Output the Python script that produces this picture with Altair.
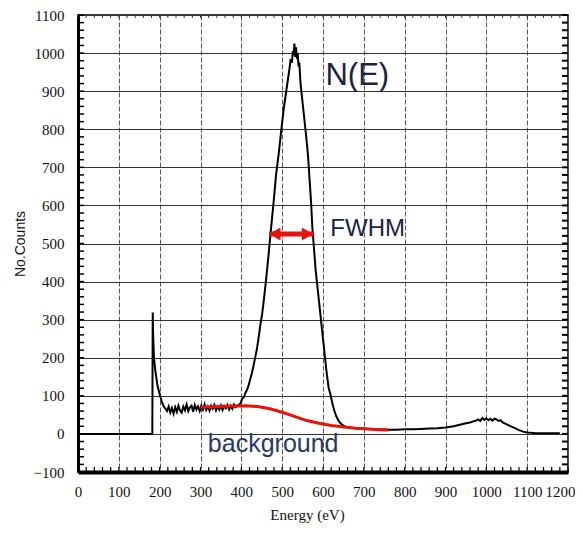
import altair as alt
import pandas as pd

# ---- spectrum ----
energy = [0, 182, 183, 184, 186, 190, 195, 200, 205, 210, 213, 218, 222, 226, 230, 234, 238, 242, 246, 250,
          254, 258, 262, 266, 270, 274, 278, 282, 286, 290, 294, 298, 302, 306, 310, 314, 318, 322, 326, 330,
          334, 338, 342, 346, 350, 354, 358, 362, 366, 370, 374, 378, 382, 386, 390, 394, 398, 402, 406, 410,
          414, 418, 422, 426, 430, 434, 438, 442, 446, 451, 456, 461, 466, 471, 476, 480, 485, 492, 498, 504,
          510, 514, 518, 521, 524, 526, 528, 530, 532, 534, 536, 538, 540, 542, 545, 549, 553, 558, 563, 567,
          571, 574, 577, 582, 587, 591, 595, 600, 605, 609, 614, 618, 623, 628, 633, 638, 643, 648, 655, 665,
          680, 700, 720, 740, 760, 780, 800, 820, 840, 860, 880, 900, 920, 935, 950, 960, 968, 975, 980, 985,
          990, 995, 1000, 1005, 1010, 1015, 1020, 1025, 1030, 1035, 1040, 1050, 1060, 1070, 1080, 1090, 1100,
          1110, 1120, 1150, 1180]
counts = [0, 0, 319, 260, 201, 160, 125, 105, 85, 72, 68, 60, 72, 56, 68, 53, 70, 58, 74, 61,
          56, 72, 62, 77, 60, 70, 74, 58, 76, 64, 72, 60, 74, 64, 78, 63, 72, 61, 74, 66,
          76, 62, 72, 64, 75, 63, 73, 67, 76, 64, 74, 66, 77, 70, 74, 76, 80, 92, 96, 108,
          116, 128, 145, 160, 180, 201, 222, 250, 282, 315, 360, 410, 462, 520, 575, 620, 680, 740, 800, 855,
          900, 930, 960, 985, 975, 1005, 995, 1025, 990, 1015, 985, 1000, 965, 975, 920, 880, 840, 790, 735, 670,
          605, 540, 500, 430, 380, 340, 300, 250, 200, 160, 120, 105, 80, 60, 45, 35, 28, 23, 19, 17,
          15, 14, 12, 12, 11, 11, 12, 12, 13, 14, 15, 17, 20, 24, 28, 30, 33, 35, 38, 34,
          42, 37, 41, 36, 40, 35, 40, 38, 34, 36, 30, 25, 20, 15, 10, 6, 4,
          3, 2, 2, 2]

# ---- background estimate ----
bg_energy = [300, 320, 350, 380, 410, 440, 470, 500, 530, 560, 590, 620, 650, 680, 710, 740, 760]
bg_counts = [70, 71, 72, 73, 74, 72, 66, 57, 46, 35, 28, 22, 18, 15, 13, 11, 10]

# ---- FWHM arrow ----
fwhm_energy = [468, 576]
fwhm_level = 525

# ---- annotations ----
ann_text = ["N(E)", "FWHM"]
ann_energy = [606, 618]
ann_counts = [916, 519]
bg_label = ["background"]
bg_label_energy = [318]
bg_label_counts = [-48]

x_ticks = list(range(0, 1201, 100))
y_ticks = list(range(-100, 1101, 100))
minor_x = list(range(0, 1201, 20))
minor_y = list(range(-100, 1101, 20))

SERIF = "Liberation Serif"

W, H = 490, 457
xs = alt.Scale(domain=[0, 1200], nice=False, zero=False)
ys = alt.Scale(domain=[-100, 1100], nice=False, zero=False)

x_axis = alt.Axis(values=x_ticks, format="d", labelOverlap=False, labelFlush=False, title="Energy (eV)",
                  labelOffset={"condition": {"test": "datum.value == 1200", "value": -8}, "value": 0},
                  grid=True, gridColor="#555555", gridDash=[5, 2], gridWidth=1, ticks=False, labelPadding=12,
                  labelFont=SERIF, labelFontSize=15, labelColor="#111111",
                  titleFont=SERIF, titleFontSize=15, titleFontWeight="normal",
                  titleColor="#111111", titleX=229, titlePadding=8,
                  domainColor="black", domainWidth=4)
y_axis = alt.Axis(values=y_ticks, format="d", labelOverlap=False, labelFlush=False, title="No.Counts",
                  grid=True, gridColor="#333333", gridWidth=1.2, ticks=False, labelPadding=14,
                  labelFont=SERIF, labelFontSize=15, labelColor="#111111",
                  titleFont="Liberation Sans", titleFontSize=14, titleFontWeight="normal",
                  titleColor="#111111", titlePadding=6,
                  domainColor="black", domainWidth=3)


def X(f):
    return alt.X(f"{f}:Q", scale=xs, axis=x_axis, title="Energy (eV)")


def Y(f):
    return alt.Y(f"{f}:Q", scale=ys, axis=y_axis, title="No.Counts")


spec_df = pd.DataFrame({"E": energy, "N": counts})
bg_df = pd.DataFrame({"E": bg_energy, "N": bg_counts})
arrow_df = pd.DataFrame({"E": fwhm_energy, "N": [fwhm_level] * 2})
head_l = pd.DataFrame({"E": [fwhm_energy[0] + 14], "N": [fwhm_level]})
head_r = pd.DataFrame({"E": [fwhm_energy[1] - 14], "N": [fwhm_level]})
ann_df = pd.DataFrame({"E": ann_energy, "N": ann_counts, "t": ann_text})
bgl_df = pd.DataFrame({"E": bg_label_energy, "N": bg_label_counts, "t": bg_label})
mx_df = pd.DataFrame({"E": minor_x})
my_df = pd.DataFrame({"N": minor_y})

spectrum = alt.Chart(spec_df).mark_line(color="black", strokeWidth=2).encode(x=X("E"), y=Y("N"), order="E:Q")
background = alt.Chart(bg_df).mark_line(color="#e8120c", strokeWidth=3).encode(x=X("E"), y=Y("N"))
arrow = alt.Chart(arrow_df).mark_line(color="#e8120c", strokeWidth=5).encode(x=X("E"), y=Y("N"))
arrow_l = alt.Chart(head_l).mark_point(shape="triangle-left", filled=True, size=170, color="#e8120c", opacity=1).encode(x=X("E"), y=Y("N"))
arrow_r = alt.Chart(head_r).mark_point(shape="triangle-right", filled=True, size=170, color="#e8120c", opacity=1).encode(x=X("E"), y=Y("N"))

ann = alt.Chart(ann_df).mark_text(align="left", baseline="alphabetic", font="Liberation Sans",
                                  color="#1e2244").encode(
    x=X("E"), y=Y("N"), text="t:N",
    size=alt.Size("t:N", scale=alt.Scale(domain=ann_text, range=[31, 24]), legend=None))
bgl = alt.Chart(bgl_df).mark_text(align="left", baseline="alphabetic", font="Liberation Sans",
                                  fontSize=25, color="#26386a").encode(x=X("E"), y=Y("N"), text="t:N")

tick_left = alt.Chart(my_df).mark_rule(color="black", strokeWidth=1.5).encode(
    y=Y("N"), x=alt.value(0), x2=alt.value(6))
tick_right = alt.Chart(my_df).mark_rule(color="black", strokeWidth=2).encode(
    y=Y("N"), x=alt.value(W - 6), x2=alt.value(W))
tick_bottom = alt.Chart(mx_df).mark_rule(color="black", strokeWidth=1.2).encode(
    x=X("E"), y=alt.value(H), y2=alt.value(H - 5))
tick_top = alt.Chart(mx_df).mark_rule(color="#333333", strokeWidth=1).encode(
    x=X("E"), y=alt.value(0), y2=alt.value(3))

chart = alt.layer(
    tick_left, tick_right, tick_bottom, tick_top,
    spectrum, background, arrow, arrow_l, arrow_r, ann, bgl
).properties(
    width=W, height=H,
    autosize=alt.AutoSizeParams(type="none"),
    padding={"left": 70, "top": 7, "right": 7, "bottom": 53},
    background="white",
).configure_view(stroke="black", strokeWidth=1.5).configure_axis(
    labelFont=SERIF, labelFontSize=15, labelColor="#111111", labelFlush=False
)

chart.save("out.html", embed_options={"renderer": "svg", "actions": False})
